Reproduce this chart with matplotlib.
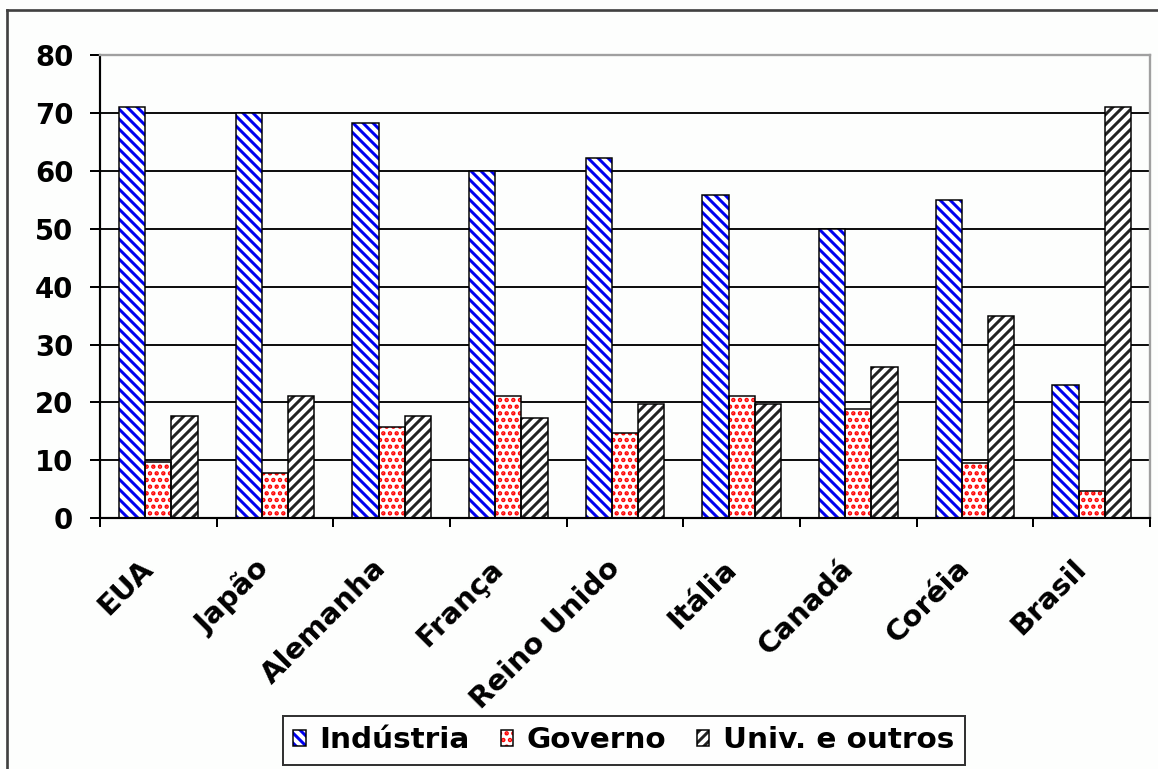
import matplotlib
matplotlib.use("Agg")
import matplotlib.pyplot as plt
import numpy as np
from matplotlib.patches import Patch
from matplotlib.lines import Line2D
from matplotlib.transforms import ScaledTranslation
from matplotlib.ticker import FixedLocator

categories = ["EUA", "Japão", "Alemanha", "França", "Reino Unido", "Itália", "Canadá", "Coréia", "Brasil"]
industria = [71, 70, 68.2, 60, 62.2, 55.8, 50, 55, 23]
governo = [9.7, 7.8, 15.7, 21.2, 14.7, 21.2, 18.8, 9.6, 4.8]
univ = [17.6, 21.2, 17.6, 17.3, 19.8, 19.8, 26.1, 35, 71]
series_names = ["Indústria", "Governo", "Univ. e outros"]
yticks = [0, 10, 20, 30, 40, 50, 60, 70, 80]

DPI = 120
W, H = 1158, 769
plt.rcParams['font.family'] = ['DejaVu Sans']
plt.rcParams['hatch.linewidth'] = 1.8

bg = '#fdfefd'
fig = plt.figure(figsize=(W / DPI, H / DPI), dpi=DPI, facecolor=bg)
ax = fig.add_axes([100 / W, 1 - 518.3 / H, 1050 / W, (518.3 - 55) / H])
ax.set_facecolor(bg)

x = np.arange(len(categories))
w = 0.225
styles = [
    (industria, -w, '#0000ee', '\\' * 4),
    (governo, 0.0, '#ff0000', '...'),
    (univ, w, '#222222', '/' * 4),
]
handles = []
for (vals, off, col, hat), name in zip(styles, series_names):
    ax.bar(x + off, vals, w, color='white', edgecolor=col, hatch=hat, linewidth=0, zorder=2)
    ax.bar(x + off, vals, w, fill=False, edgecolor='black', linewidth=0.9, zorder=3)
    h1 = Patch(facecolor='white', edgecolor=col, hatch=hat, linewidth=0)
    h2 = Patch(fill=False, edgecolor='black', linewidth=0.9)
    handles.append((h1, h2))

ax.set_xlim(-0.5, len(categories) - 0.5)
ax.set_ylim(0, 80)
ax.set_yticks(yticks)
ax.set_yticklabels([str(v) for v in yticks], fontweight='bold', fontsize=16.5)
ax.set_axisbelow(True)
ax.yaxis.grid(True, color='#111111', linewidth=1.2)
ax.tick_params(axis='y', direction='out', length=6, width=1.2, pad=10, colors='black')

ax.set_xticks(x)
ax.set_xticklabels(categories, fontweight='bold', fontsize=17.5, rotation=45,
                   ha='right', va='baseline', rotation_mode='anchor')
ax.xaxis.set_minor_locator(FixedLocator(np.arange(-0.5, len(categories), 1.0)))
ax.tick_params(axis='x', which='major', length=0, pad=31)
ax.tick_params(axis='x', which='minor', direction='out', length=5.4, width=1.2)
off = ScaledTranslation(-4 / DPI, 0, fig.dpi_scale_trans)
for lab in ax.get_xticklabels():
    lab.set_transform(lab.get_transform() + off)

for s in ['left', 'bottom']:
    ax.spines[s].set_color('black')
    ax.spines[s].set_linewidth(1.3)
for s in ['top', 'right']:
    ax.spines[s].set_color('#a0a0a0')
    ax.spines[s].set_linewidth(1.4)

leg = fig.legend(handles, series_names, loc='center', ncol=3,
                 bbox_to_anchor=(624 / W, 1 - 740.5 / H), bbox_transform=fig.transFigure,
                 prop={'weight': 'bold', 'size': 17.7}, frameon=True, fancybox=False,
                 shadow=False, handlelength=0.41, handleheight=0.48, handletextpad=0.47,
                 columnspacing=1.05, borderpad=0.35)
leg.get_frame().set_edgecolor('black')
leg.get_frame().set_linewidth(1.2)
leg.get_frame().set_facecolor('white')

# outer chart border (left and top)
fig.add_artist(Line2D([7.5 / W, 7.5 / W], [0, 1 - 10 / H], transform=fig.transFigure,
                      color='#404040', linewidth=1.6))
fig.add_artist(Line2D([7.5 / W, 1], [1 - 10 / H, 1 - 10 / H], transform=fig.transFigure,
                      color='#404040', linewidth=1.6))

fig.savefig('out.png', dpi=DPI, facecolor=bg)
